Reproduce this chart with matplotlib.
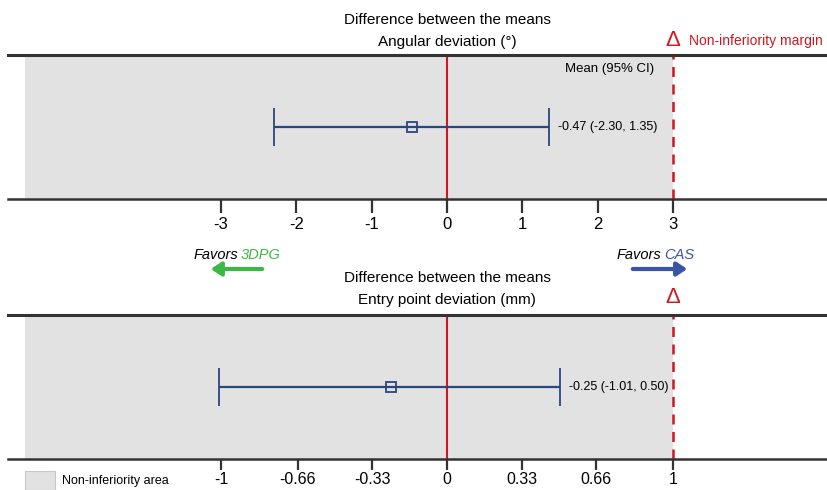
import matplotlib
matplotlib.use("Agg")
import matplotlib.pyplot as plt
from matplotlib.patches import Rectangle, FancyArrowPatch

plt.rcParams['font.family'] = ['Liberation Sans', 'DejaVu Sans']

# Data
panel_titles = ["Angular deviation (°)", "Entry point deviation (mm)"]
means = [-0.47, -0.25]
ci_low = [-2.30, -1.01]
ci_high = [1.35, 0.50]
margins = [3, 1]
ticks_top = [-3, -2, -1, 0, 1, 2, 3]
ticks_bottom = [-1, -0.66, -0.33, 0, 0.33, 0.66, 1]
tick_labels_top = ["-3", "-2", "-1", "0", "1", "2", "3"]
tick_labels_bottom = ["-1", "-0.66", "-0.33", "0", "0.33", "0.66", "1"]
value_labels = ["-0.47 (-2.30, 1.35)", "-0.25 (-1.01, 0.50)"]

W, H = 827, 490
fig = plt.figure(figsize=(W / 100, H / 100), dpi=100)

def fx(px):
    return px / W

def fy(py):
    return 1 - py / H

navy = '#2a4580'
red = '#d0161e'
shade = '#e2e2e2'

x0_px, xz_px, unit_px = 8, 447, 75.33

def make_panel(top_py, bot_py, k):
    ax = fig.add_axes([fx(x0_px), fy(bot_py), fx(W) - fx(x0_px), (bot_py - top_py) / H])
    scale = margins[k] / 3.0
    xmin = (x0_px - xz_px) / unit_px * scale
    xmax = (W - xz_px) / unit_px * scale
    ax.set_xlim(xmin, xmax)
    ax.set_ylim(0, 1)
    shade_left = (25 - xz_px) / unit_px * scale
    ax.add_patch(Rectangle((shade_left, 0), margins[k] - shade_left, 1,
                           facecolor=shade, edgecolor='none', linewidth=0, zorder=0))
    ax.axvline(0, color=red, lw=1.5, zorder=2)
    ax.axvline(margins[k], color=red, lw=1.8, ls=(0, (4, 3)), zorder=2)
    # error bar
    ax.errorbar([means[k]], [0.5], xerr=[[means[k] - ci_low[k]], [ci_high[k] - means[k]]],
                fmt='s', color=navy, mfc='none', mec=navy, ms=7.5, mew=1.3,
                elinewidth=1.6, capsize=13.5, capthick=1.6, zorder=3)
    ax.text(ci_high[k] + 0.12 * scale, 0.5, value_labels[k], fontsize=9,
            va='center', ha='left', zorder=4)
    for s in ['left', 'right']:
        ax.spines[s].set_visible(False)
    ax.spines['top'].set_color('#333333')
    ax.spines['top'].set_linewidth(2.2)
    ax.spines['bottom'].set_color('#333333')
    ax.spines['bottom'].set_linewidth(1.8)
    ax.set_yticks([])
    if k == 0:
        ax.set_xticks(ticks_top)
        ax.set_xticklabels(tick_labels_top)
        ax.tick_params(axis='x', direction='out', length=10, width=1.6, color='#333333',
                       labelsize=12, pad=3)
    else:
        ax.set_xticks(ticks_bottom)
        ax.set_xticklabels(tick_labels_bottom)
        ax.tick_params(axis='x', direction='out', length=8, width=1.6, color='#333333',
                       labelsize=11.5, pad=1)
    ax.set_facecolor('none')
    return ax

ax1 = make_panel(55, 199, 0)
ax2 = make_panel(315, 459, 1)

ax1.text(2.75, 0.9, "Mean (95% CI)", fontsize=9.5, ha='right', va='center')

# Titles
fig.text(fx(447), fy(20), "Difference between the means", fontsize=11, ha='center', va='center')
fig.text(fx(447), fy(42), panel_titles[0], fontsize=11, ha='center', va='center')
fig.text(fx(447), fy(278), "Difference between the means", fontsize=11, ha='center', va='center')
fig.text(fx(447), fy(300), panel_titles[1], fontsize=11, ha='center', va='center')

# Non-inferiority margin triangles
fig.text(fx(673), fy(41), "Δ", color=red, fontsize=16, ha='center', va='center')
fig.text(fx(689), fy(41), "Non-inferiority margin", color=red, fontsize=10, ha='left', va='center')
fig.text(fx(673), fy(297), "Δ", color=red, fontsize=16, ha='center', va='center')

# Favors labels
fig.text(fx(238), fy(255), "Favors", fontsize=10.5, style='italic', ha='right', va='center')
fig.text(fx(241), fy(255), "3DPG", fontsize=10.5, style='italic', color='#3cb944', ha='left', va='center')
fig.text(fx(661), fy(255), "Favors", fontsize=10.5, style='italic', ha='right', va='center')
fig.text(fx(664), fy(255), "CAS", fontsize=10.5, style='italic', color='#3a55a8', ha='left', va='center')

arr1 = FancyArrowPatch((fx(265), fy(269)), (fx(208), fy(269)), transform=fig.transFigure,
                       arrowstyle='-|>,head_length=6,head_width=4', color='#3cb944', lw=3)
arr2 = FancyArrowPatch((fx(630), fy(269)), (fx(690), fy(269)), transform=fig.transFigure,
                       arrowstyle='-|>,head_length=6,head_width=4', color='#3a55a8', lw=3)
fig.patches.extend([arr1, arr2])

# Legend box
fig.patches.append(Rectangle((fx(25), fy(490)), fx(30), 19 / H, transform=fig.transFigure,
                             facecolor=shade, edgecolor='#c8c8c8', lw=0.8))
fig.text(fx(62), fy(481), "Non-inferiority area", fontsize=9, ha='left', va='center')

fig.savefig("out.png", dpi=100)
